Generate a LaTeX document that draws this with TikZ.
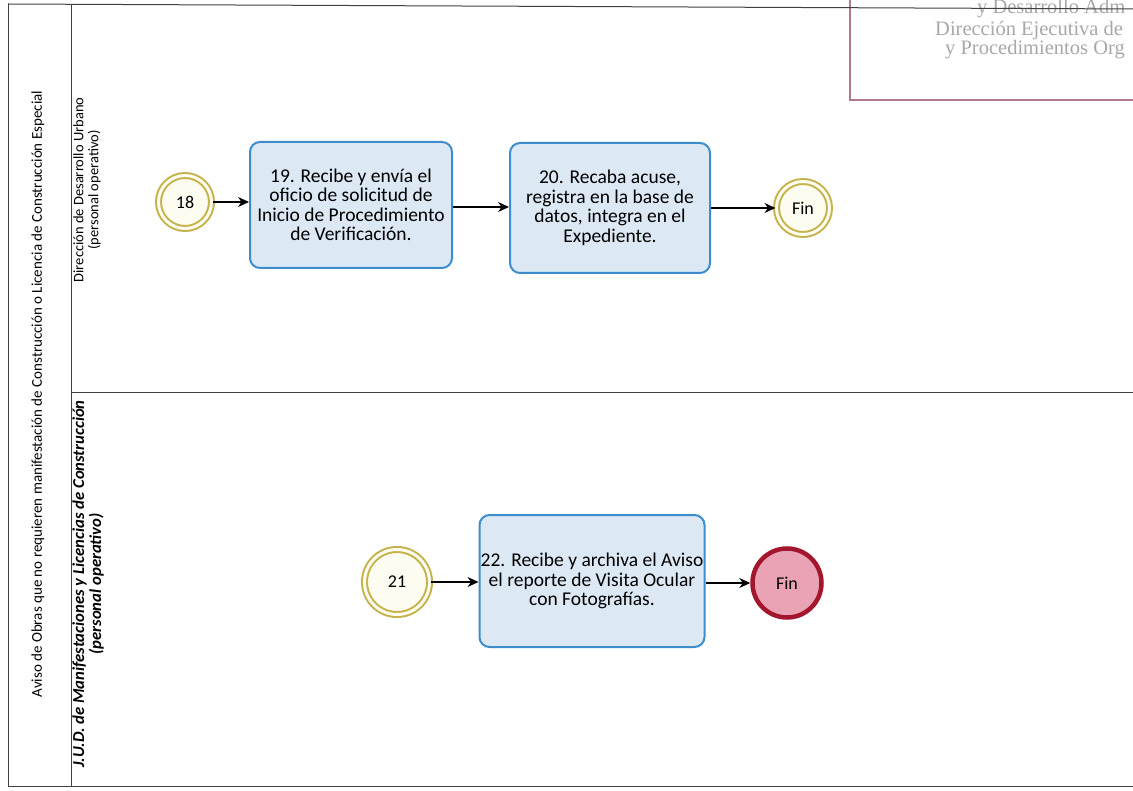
\documentclass[tikz,border=0pt]{standalone}
\usepackage{fontspec}
\setmainfont{Carlito}
\newfontfamily\stampfont{Liberation Serif}
\usetikzlibrary{arrows.meta}

\definecolor{taskfill}{HTML}{DCE9F5}
\definecolor{taskline}{HTML}{3D8CCD}
\definecolor{evgold}{HTML}{C6B24A}
\definecolor{evfill}{HTML}{FDFCF0}
\definecolor{endfill}{HTML}{E9A3B4}
\definecolor{endline}{HTML}{A3162E}
\definecolor{stampline}{HTML}{B07A8A}
\definecolor{stamptext}{HTML}{A8A8A8}
\definecolor{frame}{HTML}{404040}

\begin{document}
\begin{tikzpicture}[x=1pt,y=-1pt,
  task/.style={draw=taskline, fill=taskfill, line width=2pt, rounded corners=10pt,
    align=center, inner sep=0pt, font=\fontsize{19.5}{19.5}\selectfont},
  linkev/.style={circle, draw=evgold, fill=evfill, line width=2pt,
    double=evfill, double distance=3pt, inner sep=0pt,
    font=\fontsize{18}{18}\selectfont},
  endev/.style={circle, draw=endline, fill=endfill, line width=4.5pt, inner sep=0pt,
    font=\fontsize{18}{18}\selectfont},
  flow/.style={draw=black, line width=1.2pt, -{Stealth[length=11pt,width=10pt]}},
  frameline/.style={draw=frame, line width=1pt},
  lanelabel/.style={rotate=90, align=center, inner sep=0pt},
  stamp/.style={anchor=base west, inner sep=0pt, text=stamptext,
    font=\stampfont\fontsize{20.5}{20.5}\selectfont}]

\useasboundingbox (0,0) rectangle (1133,791);
\fill[white] (0,0) rectangle (1133,791);

\begin{scope}
\clip (0,0) rectangle (1133,791);
% stamp in the upper right corner
\draw[stampline, line width=1.5pt] (850,-5) -- (850,100) -- (1140,100);
\node[stamp] (st1) at (977,14) {y Desarrollo Adm};
\node[stamp] (st2) at (935,36) {Dirección Ejecutiva de};
\node[stamp] (st3) at (945,55) {y Procedimientos Org};

% pool frame and lanes
\draw[frameline] (8,4) -- (1140,9);
\draw[frameline] (8,4) -- (8,786) -- (1140,786);
\draw[frameline] (71,4) -- (71,786);
\draw[frameline] (71,393) -- (1140,393);
\end{scope}

% pool and lane headers
\node[lanelabel, font=\fontsize{15}{15}\selectfont] (pool) at (38,394)
  {Aviso de Obras que no requieren manifestación de Construcción o Licencia de Construcción Especial};
\node[lanelabel, font=\fontsize{14.5}{15}\selectfont] (lane1) at (87,190)
  {Dirección de Desarrollo Urbano\\(personal operativo)};
\node[lanelabel, font=\bfseries\itshape\fontsize{16.7}{17}\selectfont] (lane2) at (88,584)
  {J.U.D. de Manifestaciones y Licencias de Construcción\\(personal operativo)};

% upper lane
\node[linkev, minimum size=53pt] (n18) at (185,202) {18};
\node[task, minimum width=202pt, minimum height=126pt] (t19) at (351,205)
  {19. Recibe y envía el\\oficio de solicitud de\\Inicio de Procedimiento\\de Verificación.};
\node[task, minimum width=200pt, minimum height=130pt] (t20) at (610,208)
  {20. Recaba acuse,\\registra en la base de\\datos, integra en el\\Expediente.};
\node[linkev, minimum size=53pt] (fin1) at (803,208) {Fin};

\draw[flow] (n18.east) -- (n18.east -| t19.west);
\draw[flow] (t19.east |- 0,207) -- (t20.west |- 0,207);
\draw[flow] (t20.east |- fin1) -- (fin1.west);

% lower lane
\node[linkev, minimum size=65pt] (n21) at (397,582) {21};
\node[task, minimum width=225pt, minimum height=132pt] (t22) at (592,581)
  {22. Recibe y archiva el Aviso\\el reporte de Visita Ocular\\con Fotografías.};
\node[endev, minimum size=69pt] (fin2) at (787,583) {Fin};

\draw[flow] (n21.east) -- (n21.east -| t22.west);
\draw[flow] (t22.east |- fin2) -- (fin2.west);

\end{tikzpicture}
\end{document}
